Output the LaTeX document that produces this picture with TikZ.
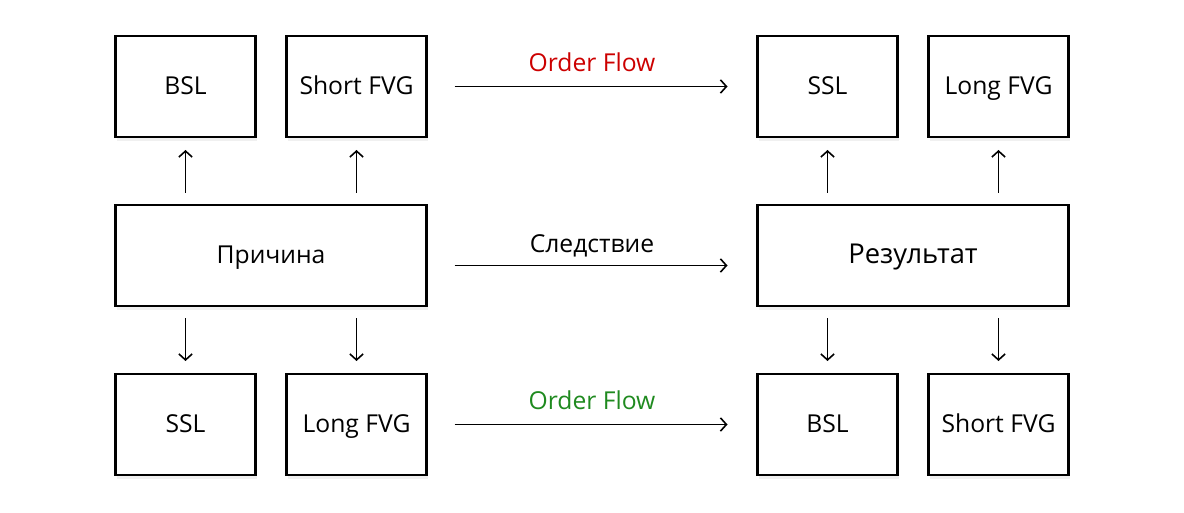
\documentclass[tikz,border=0pt]{standalone}
\usepackage{fontspec}
\setmainfont{Open Sans}
\usetikzlibrary{arrows.meta,positioning,shadows}
\definecolor{flowred}{HTML}{CC0000}
\definecolor{flowgreen}{HTML}{1F8A1F}

\begin{document}
\begin{tikzpicture}[
  x=0.75pt, y=-0.75pt,
  node distance=51pt and 23.25pt,
  box/.style={draw, line width=1.7pt, fill=white, inner sep=0pt, outer sep=0pt,
              minimum width=105pt, minimum height=75.75pt,
              text height=12.5pt, text depth=0pt,
              font=\fontsize{18.5}{21}\selectfont,
              drop shadow={shadow xshift=1pt, shadow yshift=-3pt, opacity=0.12}},
  widebox/.style={box, minimum width=233.25pt},
  arrow/.style={-{Straight Barb[length=4.5pt, width=10pt]}, line width=1.2pt},
  uparrow/.style={arrow, shorten <=9pt, shorten >=9.75pt},
  flow/.style={arrow, shorten <=21pt, shorten >=22.5pt},
  lbl/.style={font=\fontsize{18.5}{21}\selectfont}
]
\useasboundingbox (0,0) rectangle (1184,513);

% left group
\node[box] (bsl) at (185.5,86.5) {BSL};
\node[box, right=of bsl] (shortfvg) {Short FVG};
\node[widebox, below=of bsl.south west, anchor=north west] (cause) {Причина};
\node[box, below=of cause.south west, anchor=north west] (ssl) {SSL};
\node[box, right=of ssl] (longfvg) {Long FVG};

% right group
\node[widebox, right=248.25pt of cause, font=\fontsize{20.5}{23}\selectfont] (result) {Результат};
\node[box, above=of result.north west, anchor=south west] (sslres) {SSL};
\node[box, right=of sslres] (longfvgres) {Long FVG};
\node[box, below=of result.south west, anchor=north west] (bslres) {BSL};
\node[box, right=of bslres] (shortfvgres) {Short FVG};

% vertical arrows
\draw[uparrow] (cause.north -| bsl) -- (bsl.south);
\draw[uparrow] (cause.north -| shortfvg) -- (shortfvg.south);
\draw[uparrow] (cause.south -| ssl) -- (ssl.north);
\draw[uparrow] (cause.south -| longfvg) -- (longfvg.north);
\draw[uparrow] (result.north -| sslres) -- (sslres.south);
\draw[uparrow] (result.north -| longfvgres) -- (longfvgres.south);
\draw[uparrow] (result.south -| bslres) -- (bslres.north);
\draw[uparrow] (result.south -| shortfvgres) -- (shortfvgres.north);

% horizontal arrows
\draw[flow] (shortfvg.east) -- (sslres.west)
  node[lbl, midway, yshift=18pt, text=flowred] {Order Flow};
\draw[flow] ([yshift=-7.5pt]cause.east) -- ([yshift=-7.5pt]result.west)
  node[lbl, midway, yshift=15pt] {Следствие};
\draw[flow] (longfvg.east) -- (bslres.west)
  node[lbl, midway, yshift=18pt, text=flowgreen] {Order Flow};
\end{tikzpicture}
\end{document}
